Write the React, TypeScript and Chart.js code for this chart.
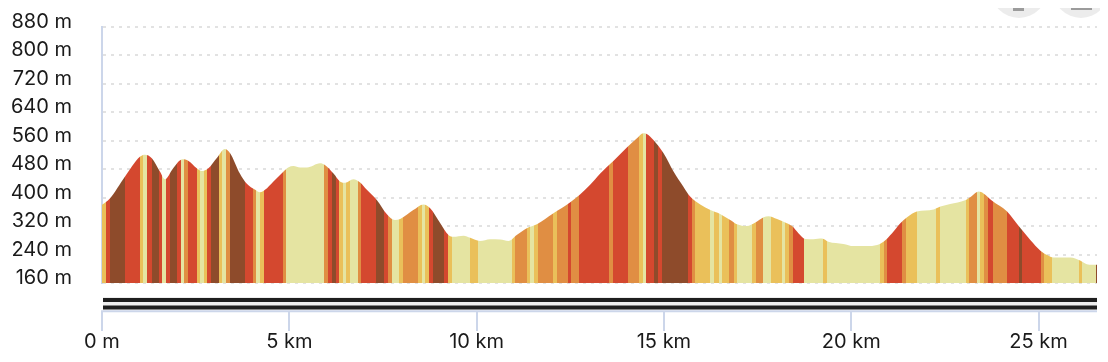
import React, { useEffect, useRef } from "react";
import { Chart, registerables } from "chart.js";

Chart.register(...registerables);

// distance along route (km) and elevation (m)
const distKm = [0, 0.21, 0.61, 1.01, 1.15, 1.33, 1.55, 1.68, 1.9, 2.15,
  2.3, 2.53, 2.66, 2.84, 3.06, 3.28, 3.42, 3.68, 3.86, 4.09,
  4.22, 4.35, 4.57, 4.84, 4.97, 5.11, 5.29, 5.47, 5.82, 5.95,
  6.18, 6.36, 6.49, 6.71, 6.89, 7.07, 7.34, 7.6, 7.82, 7.96,
  8.31, 8.58, 8.76, 9.03, 9.25, 9.38, 9.65, 9.83, 10.09, 10.36,
  10.63, 10.85, 11.07, 11.34, 11.61, 12.05, 12.5, 12.76, 13.03, 13.3,
  13.65, 14.01, 14.28, 14.45, 14.54, 14.72, 14.99, 15.26, 15.52, 15.7,
  15.97, 16.24, 16.5, 16.77, 16.95, 17.21, 17.44, 17.66, 17.79, 18.02,
  18.28, 18.42, 18.59, 18.77, 18.99, 19.22, 19.39, 19.79, 20.06, 20.42,
  20.69, 20.86, 21.09, 21.31, 21.49, 21.75, 22.2, 22.38, 22.64, 23.04,
  23.22, 23.4, 23.53, 23.76, 24.16, 24.47, 24.78, 25.05, 25.23, 25.4,
  25.85, 26.11, 26.29, 26.56];

const elevM = [380, 398, 459, 515, 521, 511, 473, 452, 483, 508,
  504, 483, 475, 483, 511, 537, 525, 468, 440, 422,
  415, 422, 445, 473, 485, 489, 485, 485, 497, 492,
  468, 445, 442, 452, 443, 422, 393, 354, 337, 340,
  365, 381, 370, 328, 295, 290, 293, 287, 278, 283,
  282, 278, 295, 314, 325, 356, 387, 409, 436, 468,
  503, 541, 567, 581, 579, 562, 525, 473, 431, 403,
  381, 365, 354, 337, 325, 320, 330, 345, 348, 340,
  328, 320, 300, 284, 283, 285, 276, 270, 264, 264,
  267, 276, 300, 328, 345, 361, 367, 375, 382, 393,
  405, 417, 412, 391, 361, 320, 281, 251, 239, 232,
  232, 223, 213, 211];

// gradient stripes: start km + slope class
const stripeKm = [0, 0.107, 0.214, 0.614, 1.015, 1.087, 1.21, 1.327, 1.53, 1.61,
  1.701, 1.816, 2.011, 2.109, 2.198, 2.304, 2.529, 2.617, 2.724, 2.812,
  2.911, 3.132, 3.212, 3.311, 3.418, 3.818, 4.024, 4.112, 4.219, 4.326,
  4.825, 4.913, 5.928, 6.027, 6.134, 6.24, 6.328, 6.427, 6.515, 6.622,
  6.828, 6.916, 7.316, 7.53, 7.645, 7.736, 7.939, 8.029, 8.446, 8.537,
  8.625, 8.74, 8.846, 9.132, 9.247, 9.338, 9.826, 10.048, 10.94, 11.028,
  11.34, 11.429, 11.535, 11.634, 12.051, 12.142, 12.435, 12.523, 12.737, 13.538,
  13.637, 14.037, 14.347, 14.438, 14.526, 14.74, 14.854, 14.961, 15.655, 15.746,
  15.834, 16.235, 16.341, 16.457, 16.547, 16.75, 16.857, 16.948, 17.348, 17.455,
  17.642, 17.856, 18.149, 18.238, 18.344, 18.443, 18.745, 19.244, 19.351, 20.755,
  20.862, 20.953, 21.354, 21.469, 21.754, 22.27, 22.358, 23.063, 23.151, 23.356,
  23.444, 23.551, 23.65, 23.773, 24.157, 24.467, 24.558, 25.065, 25.154, 25.359,
  26.069, 26.16, 26.542];
const stripeClass = ["Y", "R", "B", "R", "Y", "P", "R", "B", "R", "P",
  "R", "B", "R", "P", "O", "R", "Y", "P", "Y", "R",
  "B", "Y", "P", "O", "B", "R", "O", "P", "Y", "R",
  "O", "P", "O", "R", "B", "R", "Y", "P", "Y", "P",
  "O", "R", "B", "R", "O", "P", "Y", "O", "Y", "P",
  "Y", "R", "B", "R", "Y", "P", "Y", "P", "Y", "O",
  "Y", "P", "Y", "O", "Y", "O", "R", "O", "R", "O",
  "R", "O", "Y", "P", "R", "B", "R", "B", "R", "O",
  "Y", "P", "Y", "P", "Y", "O", "Y", "P", "Y", "O",
  "P", "Y", "P", "Y", "O", "R", "P", "Y", "P", "Y",
  "O", "R", "O", "Y", "P", "Y", "P", "Y", "O", "P",
  "Y", "O", "R", "O", "R", "B", "R", "O", "Y", "P",
  "Y", "P", "B"];
const classColors: Record<string, string> = {
  P: "#e5e4a2",
  Y: "#eac05a",
  O: "#e08e43",
  R: "#d4482f",
  B: "#8e4b2b",
};

const yTicks = [160, 240, 320, 400, 480, 560, 640, 720, 800, 880];
const xTicks = [0, 5, 10, 15, 20, 25];
const maxKm = 26.56;

const AXIS_BLUE = "#ccd6ea";

const bottomDecor = {
  id: "bottomDecor",
  afterDraw(chart: any) {
    const { ctx, chartArea, scales } = chart;
    const x = scales.x;
    const left = chartArea.left;
    const right = chartArea.right;
    const b = chartArea.bottom;
    ctx.save();
    ctx.fillStyle = "#eeeeee";
    ctx.fillRect(left + 1, b + 14, right - left - 1, 13);
    ctx.fillStyle = "#1e1e1e";
    ctx.fillRect(left + 1, b + 15, right - left - 1, 4);
    ctx.fillRect(left + 1, b + 22.5, right - left - 1, 4);
    ctx.strokeStyle = AXIS_BLUE;
    ctx.lineWidth = 2;
    ctx.beginPath();
    ctx.moveTo(left - 1, b + 28.3);
    ctx.lineTo(right, b + 28.3);
    ctx.stroke();
    for (const t of xTicks) {
      const px = Math.round(x.getPixelForValue(t));
      ctx.beginPath();
      ctx.moveTo(px, b + 28);
      ctx.lineTo(px, b + 48);
      ctx.stroke();
    }
    ctx.restore();
  },
};

function stripeGradient(context: any) {
  const chart = context.chart;
  const { ctx, chartArea, scales } = chart;
  if (!chartArea || !scales.x) return classColors.P;
  const xs = scales.x;
  const x0 = xs.getPixelForValue(0);
  const x1 = xs.getPixelForValue(maxKm);
  const g = ctx.createLinearGradient(x0, 0, x1, 0);
  const clamp = (v: number) => Math.max(0, Math.min(1, v));
  for (let i = 0; i < stripeKm.length; i++) {
    const s = stripeKm[i];
    const e = i + 1 < stripeKm.length ? stripeKm[i + 1] : maxKm;
    const c = classColors[stripeClass[i]];
    g.addColorStop(clamp((xs.getPixelForValue(s) - x0) / (x1 - x0)), c);
    g.addColorStop(clamp((xs.getPixelForValue(e) - x0) / (x1 - x0)), c);
  }
  return g;
}

export default function App() {
  const ref = useRef<HTMLCanvasElement>(null);
  useEffect(() => {
    if (!ref.current) return;
    const font = { family: "Inter", size: 20 };
    const chart = new Chart(ref.current, {
      type: "line",
      data: {
        datasets: [
          {
            data: distKm.map((d, i) => ({ x: d, y: elevM[i] })),
            fill: "start",
            backgroundColor: stripeGradient,
            borderColor: "rgba(0,0,0,0)",
            borderWidth: 0,
            pointRadius: 0,
            cubicInterpolationMode: "monotone",
          },
        ],
      },
      options: {
        responsive: false,
        animation: false,
        layout: { padding: { top: 19, right: 3, left: 0, bottom: 0 } },
        plugins: { legend: { display: false }, tooltip: { enabled: false } },
        scales: {
          x: {
            type: "linear",
            min: 0,
            max: maxKm,
            afterBuildTicks: (s: any) => {
              s.ticks = xTicks.map((v) => ({ value: v }));
            },
            afterFit: (s: any) => {
              s.height = 71;
              s.paddingLeft = 0;
              s.paddingRight = 0;
            },
            grid: { display: false, drawTicks: false },
            border: { display: false },
            ticks: {
              font,
              color: "#1a1a1a",
              padding: 47,
              maxRotation: 0,
              autoSkip: false,
              callback: (v: any) => (v === 0 ? "0 m" : `${v} km`),
            },
          },
          y: {
            min: 160,
            max: 880,
            afterBuildTicks: (s: any) => {
              s.ticks = yTicks.map((v) => ({ value: v }));
            },
            afterFit: (s: any) => {
              s.width = 94;
            },
            grid: {
              color: "#e2e2e2",
              lineWidth: 2,
              drawTicks: true,
              tickLength: 30,
              tickColor: "rgba(0,0,0,0)",
            },
            border: { display: true, color: AXIS_BLUE, width: 2, dash: [3, 5] },
            ticks: {
              font,
              color: "#1a1a1a",
              padding: 0,
              autoSkip: false,
              labelOffset: -5,
              callback: (v: any) => `${v} m`,
            },
          },
        },
      },
      plugins: [bottomDecor],
    });
    return () => chart.destroy();
  }, []);

  const circle = (left: number) => ({
    position: "absolute" as const,
    left,
    top: -46,
    width: 56,
    height: 56,
    borderRadius: "50%",
    background: "#ececec",
  });

  return (
    <div style={{ position: "relative", width: 1092, height: 346 }}>
      <canvas ref={ref} width={1092} height={346} />
      <div style={circle(983)} />
      <div style={circle(1045)} />
      <div style={{ position: "absolute", left: 1005, top: -8, width: 11, height: 11, background: "#9b9b9b" }} />
      <div style={{ position: "absolute", left: 1063, top: -8, width: 21, height: 10, background: "#9b9b9b" }} />
    </div>
  );
}
